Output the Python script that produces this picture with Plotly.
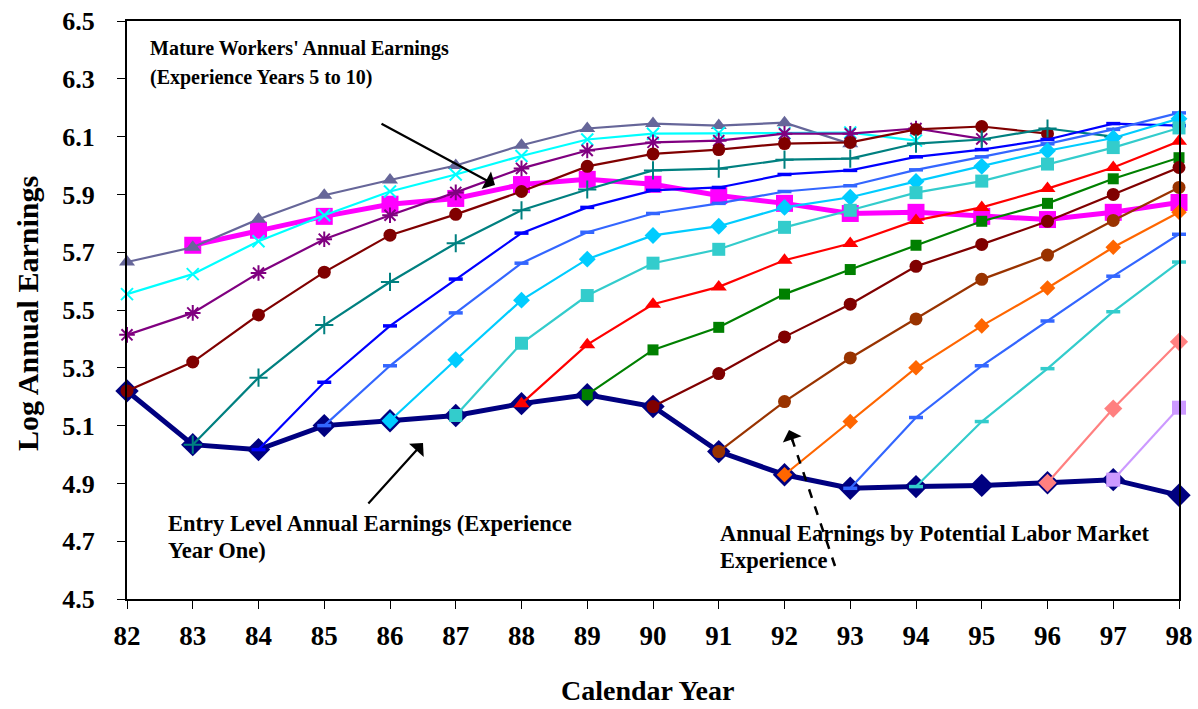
"""
Log annual earnings by calendar year: entry level, mature workers and
one line per entry cohort (potential labour market experience).
"""

import plotly.graph_objects as go

W, H = 1198, 709
M_L, M_R, M_T, M_B = 127, 19, 21, 110
FONT = 'Liberation Serif'

years = list(range(82, 99))

# experience year one, 82..98
entry_level = [5.220, 5.034, 5.017, 5.100, 5.117, 5.135, 5.176, 5.207, 5.166,
               5.010, 4.930, 4.883, 4.889, 4.893, 4.902, 4.913, 4.859]

# experience years 5 to 10, 83..98
mature_years = list(range(83, 99))
mature_5_10 = [5.724, 5.776, 5.824, 5.866, 5.886, 5.934, 5.952, 5.935,
               5.896, 5.869, 5.834, 5.838, 5.824, 5.813, 5.838, 5.872]

# one list per entry cohort, starting at max(entry year, 82)
coh_79 = [5.666, 5.717, 5.814, 5.897, 5.950, 6.000, 6.070, 6.128, 6.145,
          6.138, 6.148, 6.075]
coh_80 = [5.555, 5.624, 5.738, 5.828, 5.910, 5.969, 6.033, 6.090, 6.110,
          6.112, 6.112, 6.114, 6.086]
coh_81 = [5.414, 5.490, 5.628, 5.745, 5.828, 5.907, 5.990, 6.052, 6.080,
          6.086, 6.110, 6.110, 6.128, 6.092]
coh_82 = [5.220, 5.320, 5.483, 5.631, 5.759, 5.831, 5.910, 5.997, 6.040,
          6.055, 6.076, 6.080, 6.125, 6.135, 6.110]
coh_83 = [5.034, 5.266, 5.448, 5.597, 5.731, 5.845, 5.917, 5.983, 5.989,
          6.020, 6.024, 6.076, 6.090, 6.128, 6.100]
coh_84 = [5.017, 5.250, 5.445, 5.607, 5.766, 5.855, 5.914, 5.924, 5.969,
          5.983, 6.030, 6.055, 6.090, 6.145, 6.138]
coh_85 = [5.100, 5.307, 5.490, 5.662, 5.769, 5.834, 5.869, 5.910, 5.930,
          5.985, 6.030, 6.075, 6.125, 6.182]
coh_86 = [5.117, 5.328, 5.534, 5.676, 5.758, 5.790, 5.855, 5.890, 5.945,
          5.997, 6.051, 6.095, 6.162]
coh_87 = [5.135, 5.385, 5.550, 5.662, 5.710, 5.786, 5.845, 5.906, 5.946,
          6.005, 6.062, 6.130]
coh_88 = [5.176, 5.380, 5.520, 5.580, 5.672, 5.730, 5.810, 5.855, 5.920,
          5.993, 6.084]
coh_89 = [5.207, 5.362, 5.440, 5.555, 5.640, 5.724, 5.807, 5.869, 5.954,
          6.027]
coh_90 = [5.166, 5.280, 5.407, 5.520, 5.651, 5.727, 5.807, 5.900, 5.993]
coh_91 = [5.010, 5.183, 5.334, 5.469, 5.606, 5.690, 5.810, 5.924]
coh_92 = [4.930, 5.114, 5.300, 5.445, 5.576, 5.717, 5.838]
coh_93 = [4.883, 5.128, 5.307, 5.462, 5.617, 5.762]
coh_94 = [4.889, 5.114, 5.297, 5.494, 5.666]
coh_96 = [4.902, 5.159, 5.390]
coh_97 = [4.913, 5.162]

cohorts = {79: coh_79, 80: coh_80, 81: coh_81, 82: coh_82, 83: coh_83,
           84: coh_84, 85: coh_85, 86: coh_86, 87: coh_87, 88: coh_88,
           89: coh_89, 90: coh_90, 91: coh_91, 92: coh_92, 93: coh_93,
           94: coh_94, 96: coh_96, 97: coh_97}

# colour, marker symbol, marker size
COHORT_STYLE = {
    79: ('#666699', 'triangle-up', 14),
    80: ('#00FFFF', 'x-thin', 12),
    81: ('#800080', 'asterisk', 13),
    82: ('#800000', 'circle', 13),
    83: ('#008080', 'cross-thin', 13),
    84: ('#0000FF', 'line-ew', 10),
    85: ('#3366FF', 'line-ew', 10),
    86: ('#00CCFF', 'diamond', 13),
    87: ('#33CCCC', 'square', 13),
    88: ('#FF0000', 'triangle-up', 14),
    89: ('#008000', 'square', 11),
    90: ('#800000', 'circle', 13),
    91: ('#993300', 'circle', 13),
    92: ('#FF6600', 'diamond', 12),
    93: ('#3366FF', 'line-ew', 10),
    94: ('#33CCCC', 'line-ew', 10),
    96: ('#FF8080', 'diamond', 14),
    97: ('#CC99FF', 'square', 14),
}


def _paper(px, py):
    """Pixel position in the page -> paper coordinates."""
    pw = W - M_L - M_R
    ph = H - M_T - M_B
    return (px - M_L) / pw, (H - M_B - py) / ph


def _text(fig, px, py, txt, size=18, angle=0, xanchor='left'):
    x, y = _paper(px, py)
    fig.add_annotation(
        x=x, y=y, xref='paper', yref='paper', text=f'<b>{txt}</b>',
        showarrow=False, xanchor=xanchor, yanchor='middle', textangle=angle,
        font=dict(family=FONT, size=size, color='black'),
    )


def _arrow(fig, head, tail, dashed=False):
    x, y = _paper(*head)
    if dashed:
        tx, ty = _paper(*tail)
        fig.add_shape(type='line', xref='paper', yref='paper',
                      x0=tx, y0=ty, x1=x, y1=y,
                      line=dict(color='black', width=2.5, dash='dash'))
        dx, dy = tail[0] - head[0], tail[1] - head[1]
        n = (dx * dx + dy * dy) ** 0.5
        ax, ay = dx / n * 14, dy / n * 14
    else:
        ax, ay = tail[0] - head[0], tail[1] - head[1]
    fig.add_annotation(
        x=x, y=y, xref='paper', yref='paper', ax=ax, ay=ay, text='',
        showarrow=True, arrowhead=1, arrowsize=1.5, arrowwidth=2.2,
        arrowcolor='black',
    )


fig = go.Figure()

fig.add_trace(go.Scatter(
    x=years, y=entry_level, mode='lines+markers', name='Entry level',
    line=dict(color='#000080', width=5),
    marker=dict(symbol='diamond', size=18, color='#000080'),
    cliponaxis=False,
))
fig.add_trace(go.Scatter(
    x=mature_years, y=mature_5_10, mode='lines+markers', name='Mature 5-10',
    line=dict(color='#FF00FF', width=5),
    marker=dict(symbol='square', size=17, color='#FF00FF'),
    cliponaxis=False,
))

for cy, vals in cohorts.items():
    color, sym, size = COHORT_STYLE[cy]
    start = max(cy, 82)
    xs = years[years.index(start):years.index(start) + len(vals)]
    thin = sym in ('x-thin', 'cross-thin', 'asterisk', 'line-ew')
    fig.add_trace(go.Scatter(
        x=xs, y=vals, mode='lines+markers', name=f'Cohort {cy}',
        line=dict(color=color, width=2.2),
        marker=dict(symbol=sym, size=size, color=color,
                    line=dict(color=color, width=3.5 if sym == 'line-ew' else (2 if thin else 0))),
        cliponaxis=False,
    ))

fig.update_layout(
    width=W, height=H,
    margin=dict(l=M_L, r=M_R, t=M_T, b=M_B),
    paper_bgcolor='white', plot_bgcolor='white',
    showlegend=False,
    font=dict(family=FONT, color='black'),
    xaxis=dict(
        range=[82, 98], tickmode='linear', tick0=82, dtick=1,
        showgrid=False, zeroline=False, automargin=False,
        showline=True, mirror=True, linecolor='black', linewidth=2,
        ticks='outside', ticklen=8, tickcolor='black',
        tickfont=dict(family=FONT, size=27, color='black'),
        ticklabelstandoff=4, ticklabeloverflow='allow',
    ),
    yaxis=dict(
        range=[4.5, 6.5], tickmode='linear', tick0=4.5, dtick=0.2,
        tickformat='.1f',
        showgrid=False, zeroline=False, automargin=False,
        showline=True, mirror=True, linecolor='black', linewidth=2,
        ticks='outside', ticklen=8, tickcolor='black',
        tickfont=dict(family=FONT, size=26, color='black'),
        ticklabelstandoff=17, ticklabeloverflow='allow',
    ),
)
fig.update_xaxes(tickprefix='<b>', ticksuffix='</b>')
fig.update_yaxes(tickprefix='<b>', ticksuffix='</b>')

# axis titles
_text(fig, 647, 690, 'Calendar Year', size=28, xanchor='center')
_text(fig, 27, 314, 'Log Annual Earnings', size=30, angle=-90, xanchor='center')

# callouts
_text(fig, 148, 48, "Mature Workers' Annual Earnings", size=20)
_text(fig, 148, 78, '(Experience Years 5 to 10)', size=20)
_text(fig, 166, 523, 'Entry Level Annual Earnings (Experience', size=22.5)
_text(fig, 166, 550, 'Year One)', size=22.5)
_text(fig, 718, 533, 'Annual Earnings by Potential Labor Market', size=22.5)
_text(fig, 718, 560, 'Experience', size=22.5)

_arrow(fig, head=(495, 185), tail=(380, 123))
_arrow(fig, head=(423, 443), tail=(367, 505))
_arrow(fig, head=(789, 430), tail=(835, 566), dashed=True)

# the page's default body margin would push the 1198x709 figure off-screen
fig.write_html('out.html', config={'displayModeBar': False},
               post_script="document.body.style.margin = '0';")
